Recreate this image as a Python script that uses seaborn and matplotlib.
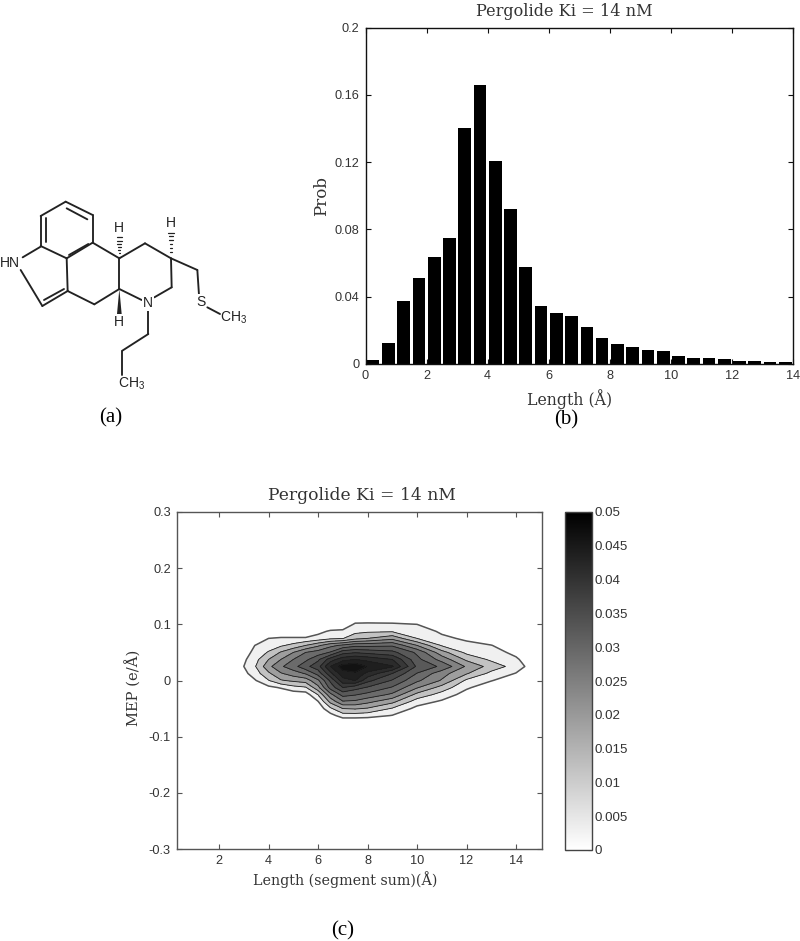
import matplotlib
matplotlib.use("Agg")
import matplotlib.pyplot as plt
import numpy as np
import seaborn as sns
from matplotlib.cm import ScalarMappable
from matplotlib.colors import Normalize

# ---------- data: length histogram ----------
bar_centers = [0.25, 0.75, 1.25, 1.75, 2.25, 2.75, 3.25, 3.75, 4.25, 4.75, 5.25, 5.75, 6.25, 6.75,
               7.25, 7.75, 8.25, 8.75, 9.25, 9.75, 10.25, 10.75, 11.25, 11.75, 12.25, 12.75, 13.25, 13.75]
bar_probs = [.0026, .0124, .0375, .0509, .0637, .0747, .1400, .1660, .1208, .0923, .0574, .0345, .0305, .0288,
             .0217, .0154, .0118, .0100, .0085, .0077, .0049, .0037, .0037, .0032, .0020, .0020, .0014, .0014]
bar_xticks = [0, 2, 4, 6, 8, 10, 12, 14]
bar_yticks = [0, 0.04, 0.08, 0.12, 0.16, 0.2]
bar_yticklabels = ["0", "0.04", "0.08", "0.12", "0.16", "0.2"]

# ---------- data: length / MEP density, one list per length value, MEP from high to low ----------
mep_values = [0.125, 0.1125, 0.1, 0.0875, 0.075, 0.0625, 0.05, 0.0375, 0.025, 0.0125, 0.0,
              -0.0125, -0.025, -0.0375, -0.05, -0.0625, -0.075]
length_values = [2.5, 3, 3.5, 4, 4.5, 5, 5.5, 6, 6.5, 7, 7.5, 8, 9, 10, 11, 12, 13, 14, 15]
band_step = 0.0042
band_grays = [0.94, 0.76, 0.62, 0.51, 0.42, 0.35, 0.28, 0.22, 0.17, 0.12, 0.07]
d_2p5 = [0] * 17
d_3 = [0, 0, 0, 0, 0, .2, .5, .8, 1.0, .7, .3, 0, 0, 0, 0, 0, 0]
d_3p5 = [0, 0, 0, 0, 0, 1.1, 1.4, 1.75, 2.05, 1.6, 1, .4, 0, 0, 0, 0, 0]
d_4 = [0, 0, 0, 0, 1, 1.5, 2.1, 3, 3.7, 2.8, 1.95, .75, 0, 0, 0, 0, 0]
d_4p5 = [0, 0, 0, 0, 1.15, 1.85, 3.1, 4, 4.85, 3.9, 2.9, 1.1, .2, 0, 0, 0, 0]
d_5 = [0, 0, 0, 0, 1.15, 2.3, 4, 5, 5.6, 4.5, 3.2, 1.65, .4, 0, 0, 0, 0]
d_5p5 = [0, 0, 0, 0, 1.15, 3, 5, 5.75, 6.7, 5.1, 3.45, 1.9, .5, 0, 0, 0, 0]
d_6 = [0, 0, 0, .7, 1.4, 3.8, 5.45, 6.8, 7.6, 6.4, 4.8, 3.7, 2.05, .95, .3, 0, 0]
d_6p5 = [0, 0, .1, 1.15, 1.8, 4.7, 6.1, 8.5, 10, 8.7, 7.2, 6.4, 4.7, 3.3, 1.8, .6, 0]
d_7 = [0, 0, 0, 1.3, 1.95, 5.2, 7.6, 9.6, 11.5, 10.6, 9.6, 8, 6.4, 4.9, 3, 1.5, 0]
d_7p5 = [0, 0, 1.2, 1.7, 2.7, 5.7, 7.9, 10, 11.8, 10.8, 10, 7.4, 6.1, 4.8, 3.1, 1.5, 0]
d_8 = [0, 0, 1.25, 1.85, 3, 5.7, 7.7, 9.7, 10.9, 9.7, 8.3, 6.9, 5.7, 4.3, 2.9, 1.4, 0]
d_9 = [0, 0, 1.2, 1.9, 3.7, 5.85, 7.3, 9, 10.1, 8, 6.9, 5.9, 4.8, 3.3, 1.9, .95, 0]
d_10 = [0, 0, 1, 1.5, 2, 4, 5.8, 6.3, 6.8, 5.95, 5.2, 4.1, 2.7, 1.5, .7, 0, 0]
d_11 = [0, 0, 0, .85, 1.2, 1.9, 3.4, 4.6, 5.8, 4.4, 3.9, 2.6, 1.6, .85, 0, 0, 0]
d_12 = [0, 0, 0, 0, .85, 1.25, 1.75, 2.8, 3.85, 3.1, 1.8, 1.15, .6, 0, 0, 0, 0]
d_13 = [0, 0, 0, 0, 0, 1.05, 1.4, 1.8, 2.6, 1.7, 1.05, .4, 0, 0, 0, 0, 0]
d_14 = [0, 0, 0, 0, 0, 0, .75, 1.15, 1.55, .95, .4, 0, 0, 0, 0, 0, 0]
d_15 = [0] * 17
density_columns = [d_2p5, d_3, d_3p5, d_4, d_4p5, d_5, d_5p5, d_6, d_6p5, d_7, d_7p5, d_8,
                   d_9, d_10, d_11, d_12, d_13, d_14, d_15]
contour_xticks = [2, 4, 6, 8, 10, 12, 14]
contour_yticks = [-0.3, -0.2, -0.1, 0, 0.1, 0.2, 0.3]
contour_yticklabels = ["-0.3", "-0.2", "-0.1", "0", "0.1", "0.2", "0.3"]
cbar_ticks = [0, 0.005, 0.01, 0.015, 0.02, 0.025, 0.03, 0.035, 0.04, 0.045, 0.05]
cbar_labels = ["0", "0.005", "0.01", "0.015", "0.02", "0.025", "0.03", "0.035", "0.04", "0.045", "0.05"]

# ---------- structural formula of pergolide (drawing units of the diagram panel) ----------
bonds = [
    ((197, 65), (278, 105)), ((278, 105), (278, 188)), ((278, 188), (200, 235)), ((200, 235), (122, 198)),
    ((122, 198), (122, 108)), ((122, 108), (197, 65)),
    ((200, 85), (262, 118)), ((265, 192), (207, 225)), ((138, 115), (138, 185)),
    ((122, 200), (68, 232)), ((62, 270), (127, 378)), ((127, 378), (203, 333)), ((132, 360), (192, 327)),
    ((203, 333), (200, 235)), ((203, 333), (283, 373)), ((283, 373), (358, 327)), ((358, 327), (358, 235)),
    ((358, 235), (278, 188)), ((358, 235), (435, 190)), ((435, 190), (513, 235)), ((513, 235), (515, 322)),
    ((515, 322), (463, 352)), ((358, 327), (425, 360)), ((445, 390), (445, 462)), ((445, 462), (367, 512)),
    ((367, 512), (367, 585)), ((513, 235), (592, 270)), ((592, 270), (597, 345)), ((622, 382), (660, 402)),
]
hatched_wedges = [((358, 235), (358, 172)), ((513, 232), (513, 158))]
solid_wedges = [((358, 327), (358, 402))]
atom_labels = [("HN", 30, 250), ("N", 443, 370), ("S", 603, 366), ("H", 358, 145), ("H", 514, 130), ("H", 358, 427),
               ("CH$_{\\mathregular{3}}$", 702, 412), ("CH$_{\\mathregular{3}}$", 396, 612)]

# ---------- theme ----------
sns.set_theme(style="white")
plt.rcParams["font.family"] = ["Liberation Sans", "DejaVu Sans"]
INK = "#333333"
SERIF = ["DejaVu Serif"]
W, H = 800, 941
fig = plt.figure(figsize=(W / 100, H / 100), dpi=100, facecolor="white")


def axes_px(left, top, right, bottom, **kw):
    return fig.add_axes([left / W, 1 - bottom / H, (right - left) / W, (bottom - top) / H], **kw)


def matlab_box(ax, color):
    for s in ax.spines.values():
        s.set_visible(True)
        s.set_color(color)
        s.set_linewidth(1.0)
    ax.tick_params(direction="in", top=True, right=True, left=True, bottom=True, length=3.5, width=0.8,
                   color=color, labelcolor=INK, labelsize=9.2, pad=4.5)


# ---------- (b) histogram ----------
ax_b = axes_px(365.5, 27.5, 793, 364)
sns.barplot(x=bar_centers, y=bar_probs, native_scale=True, width=0.83, color="black", saturation=1,
            edgecolor="black", linewidth=0, ax=ax_b)
ax_b.set_xlim(0, 14)
ax_b.set_ylim(0, 0.2)
ax_b.set_xticks(bar_xticks, [str(t) for t in bar_xticks])
ax_b.set_yticks(bar_yticks, bar_yticklabels)
matlab_box(ax_b, "#111111")
ax_b.set_title("Pergolide Ki = 14 nM", family=SERIF, fontsize=11.6, color=INK, pad=8.5, x=0.464)
ax_b.set_xlabel("Length (Å)", family=SERIF, fontsize=11.3, color=INK, labelpad=5, x=0.478)
ax_b.set_ylabel("Prob", family=SERIF, fontsize=12, color=INK, labelpad=3)

# ---------- (c) contour ----------
ax_c = axes_px(177, 512, 542, 849)
Z = np.array(density_columns).T * band_step
levels = [band_step * k for k in range(1, 12)]
band_colors = [(g, g, g) for g in band_grays]
ax_c.contourf(length_values, mep_values, Z, levels=levels + [0.05], colors=band_colors)
ax_c.contour(length_values, mep_values, Z, levels=levels[1:], colors="#1c1c1c", linewidths=0.6)
ax_c.contour(length_values, mep_values, Z, levels=levels[:1], colors="#555555", linewidths=1.1)
ax_c.set_xlim(0.3, 15.05)
ax_c.set_ylim(-0.3, 0.3)
ax_c.set_xticks(contour_xticks, [str(t) for t in contour_xticks])
ax_c.set_yticks(contour_yticks, contour_yticklabels)
matlab_box(ax_c, "#555555")
ax_c.set_title("Pergolide Ki = 14 nM", family=SERIF, fontsize=12.3, color=INK, pad=8.5, x=0.507)
ax_c.set_xlabel("Length (segment sum)(Å)", family=SERIF, fontsize=10.3, color=INK, labelpad=3, x=0.46)
ax_c.set_ylabel("MEP (e/Å)", family=SERIF, fontsize=10.6, color=INK, labelpad=5, y=0.478)

# ---------- colour bar ----------
ax_cb = axes_px(565, 512, 592, 850)
cbar = fig.colorbar(ScalarMappable(Normalize(0, 0.05), "gray_r"), cax=ax_cb)
cbar.set_ticks(cbar_ticks, labels=cbar_labels)
cbar.outline.set_edgecolor("#444444")
cbar.outline.set_linewidth(1.0)
ax_cb.tick_params(direction="in", left=True, right=True, length=3, width=0.8, color="#444444",
                  labelcolor=INK, labelsize=9.6, pad=2)

# ---------- (a) structural formula ----------
ax_a = axes_px(0, 180, 270, 400)
ax_a.set_xlim(0, 810)
ax_a.set_ylim(660, 0)
ax_a.axis("off")
for (x0, y0), (x1, y1) in bonds:
    ax_a.plot([x0, x1], [y0, y1], color="#222222", lw=1.35, solid_capstyle="round")
for (x0, y0), (x1, y1) in solid_wedges:
    ax_a.fill([x0, x1 - 7, x1 + 7], [y0, y1, y1], color="#222222", lw=0)
for (x0, y0), (x1, y1) in hatched_wedges:
    for t in np.linspace(0.08, 1, 7):
        yy = y0 + (y1 - y0) * t
        ax_a.plot([x0 - 8 * t, x0 + 8 * t], [yy, yy], color="#222222", lw=0.9)
for text, x, y in atom_labels:
    ax_a.text(x, y, text, ha="center", va="center", fontsize=10, color="#222222",
              bbox=dict(facecolor="white", edgecolor="none", pad=0.6) if text in ("N", "S") else None)

# ---------- panel letters ----------
for letter, px, py in [("(a)", 111, 418), ("(b)", 566, 420), ("(c)", 343, 931)]:
    fig.text(px / W, 1 - py / H, letter, ha="center", va="center", fontsize=15,
             family=["Liberation Serif"], color="black")

fig.savefig("out.png", dpi=100, facecolor="white")
